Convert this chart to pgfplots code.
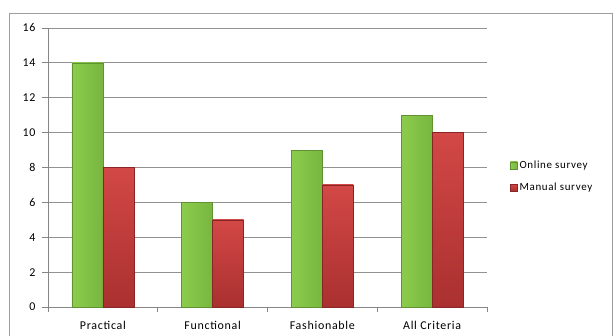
\documentclass[border=0pt]{standalone}
\usepackage{pgfplots}
\pgfplotsset{compat=1.18}
\usepackage{fontspec}
\setmainfont{Carlito}[LetterSpace=6]

\definecolor{onlineG}{RGB}{154,214,88}
\definecolor{onlineGl}{RGB}{140,204,76}
\definecolor{onlineGd}{RGB}{120,182,64}
\definecolor{manualR}{RGB}{210,72,70}
\definecolor{manualRd}{RGB}{170,48,48}
\definecolor{axisgray}{RGB}{134,134,134}

% one bar of each series: green to the left of the category, red to the right
\pgfplotsset{
  online/.style={draw=onlineGd!80!black, line width=0.4bp, bar shift=-15.5bp,
    left color=onlineGl, middle color=onlineG, right color=onlineGd},
  manual/.style={draw=manualRd!80!black, line width=0.4bp, bar shift=15.5bp,
    top color=manualR, bottom color=manualRd},
}

\begin{document}
\begin{tikzpicture}
% page frame
\useasboundingbox (0,0) rectangle (613bp,-336bp);
\draw[color=axisgray!80, line width=0.8bp] (9bp,-13bp) -- (612bp,-13bp) -- (612bp,-345bp);
\draw[color=axisgray!80, line width=0.8bp] (9bp,-13bp) -- (9bp,-345bp);
\begin{axis}[
  at={(48bp,-307bp)}, anchor=south west,
  scale only axis, width=439bp, height=279bp,
  ybar, bar width=31bp,
  xmin=-0.5, xmax=3.5, ymin=0, ymax=16,
  ytick={0,2,...,16},
  xtick={0,1,2,3},
  xticklabels={Practical,Functional,Fashionable,All Criteria},
  minor xtick={-0.5,0.5,1.5,2.5,3.5},
  major x tick style={draw=none},
  minor tick length=5bp,
  major tick length=6bp,
  tick align=outside,
  axis x line*=bottom, axis y line*=left,
  axis line style={color=axisgray, line width=0.8bp},
  tick style={color=axisgray, line width=0.8bp},
  ymajorgrids, grid style={color=axisgray!90, line width=0.8bp},
  tick label style={font=\fontsize{12}{14}\selectfont},
  /pgf/number format/assume math mode=true,
  yticklabel style={xshift=-3bp},
  xticklabel style={yshift=-5bp},
  legend style={at={(axis description cs:1,0.5)}, anchor=west, xshift=20bp, yshift=-9bp,
    draw=none, fill=none, font=\fontsize{11}{13}\selectfont, row sep=9bp,
    legend cell align=left},
  legend image code/.code={\fill[#1] (0bp,-3.5bp) rectangle (7bp,3.5bp);},
]
\addplot[online] coordinates {(0,14)};
\addlegendentry{Online survey}
\addplot[manual] coordinates {(0,8)};
\addlegendentry{Manual survey}
\addplot[online, forget plot] coordinates {(1,6)};
\addplot[manual, forget plot] coordinates {(1,5)};
\addplot[online, forget plot] coordinates {(2,9)};
\addplot[manual, forget plot] coordinates {(2,7)};
\addplot[online, forget plot] coordinates {(3,11)};
\addplot[manual, forget plot] coordinates {(3,10)};
\end{axis}
\end{tikzpicture}
\end{document}
